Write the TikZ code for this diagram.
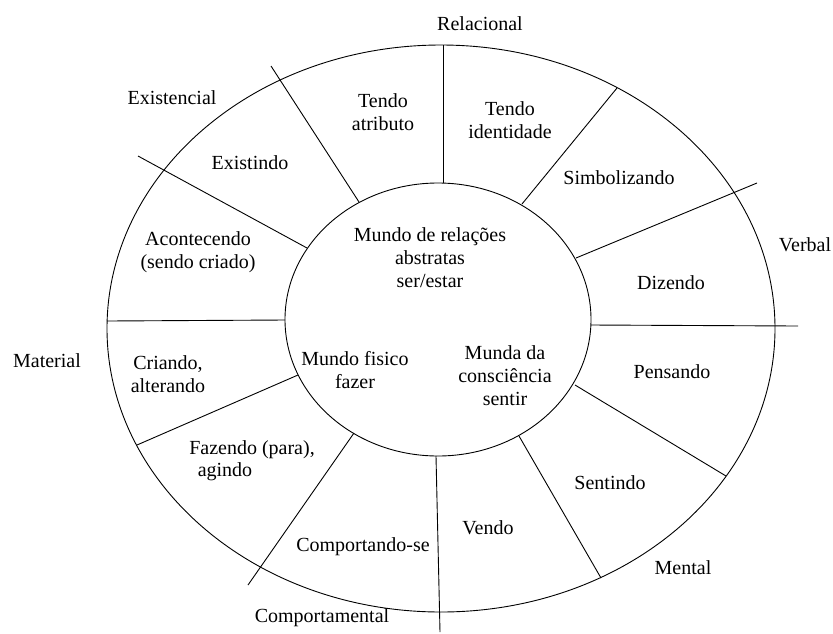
\documentclass[tikz,border=0pt]{standalone}
\usepackage{fontspec}
\setmainfont{Liberation Serif}
\begin{document}
\begin{tikzpicture}[x=1pt,y=-1pt,
  lbl/.style={inner sep=0pt,align=center,font=\fontsize{20}{23}\selectfont},
  ln/.style={line width=0.9pt}]
\useasboundingbox (0,0) rectangle (833,633);
% outer ellipse and inner circle
\draw[ln] (441,328.5) ellipse [x radius=334pt, y radius=283.5pt];
\draw[ln] (438,319.5) ellipse [x radius=153pt, y radius=136.5pt];
% dividing lines
\coordinate (a1) at (443,45);  \coordinate (a2) at (443,183);
\coordinate (b1) at (271,66);  \coordinate (b2) at (359,202);
\coordinate (c1) at (138,156); \coordinate (c2) at (307,248);
\coordinate (d1) at (107,321); \coordinate (d2) at (285,320);
\coordinate (e1) at (137,445); \coordinate (e2) at (298,375);
\coordinate (f1) at (354,433); \coordinate (f2) at (248,585);
\coordinate (g1) at (436,456); \coordinate (g2) at (440,632);
\coordinate (h1) at (519,436); \coordinate (h2) at (601,578);
\coordinate (i1) at (575,385); \coordinate (i2) at (726,476);
\coordinate (j1) at (591,325); \coordinate (j2) at (798,326);
\coordinate (k1) at (576,258); \coordinate (k2) at (757,183);
\coordinate (l1) at (522,204); \coordinate (l2) at (617,88);
\foreach \p in {a,b,c,d,e,f,g,h,i,j,k,l} \draw[ln] (\p1) -- (\p2);
% outer labels
\node[lbl] (relacional) at (480,24) {Relacional};
\node[lbl] (existencial) at (172,98) {Existencial};
\node[lbl] (verbal) at (805,245) {Verbal};
\node[lbl] (material) at (47,361) {Material};
\node[lbl] (comportamental) at (322,618) {Comportamental};
\node[lbl] (mental) at (683,568) {Mental};
% ring labels
\node[lbl] (atributo) at (383,112) {Tendo\\atributo};
\node[lbl] (identidade) at (510,120) {Tendo\\identidade};
\node[lbl] (existindo) at (250,163) {Existindo};
\node[lbl] (simbolizando) at (619,178) {Simbolizando};
\node[lbl] (acontecendo) at (198,252) {Acontecendo\\(sendo criado)};
\node[lbl] (dizendo) at (671,283) {Dizendo};
\node[lbl] (criando) at (168,374) {Criando,\\alterando};
\node[lbl] (pensando) at (672,372) {Pensando};
\node[lbl] (fazendo1) at (252,450) {Fazendo (para),};
\node[lbl] (fazendo2) at (225,472) {agindo};
\node[lbl] (comportando) at (363,547) {Comportando-se};
\node[lbl] (vendo) at (488,528) {Vendo};
\node[lbl] (sentindo) at (610,483) {Sentindo};
% inner labels
\node[lbl] (relacoes) at (430,258) {Mundo de relações\\abstratas\\ser/estar};
\node[lbl] (fisico) at (355,370) {Mundo fisico\\fazer};
\node[lbl] (consciencia) at (505,376) {Munda da\\consciência\\sentir};
\end{tikzpicture}
\end{document}
